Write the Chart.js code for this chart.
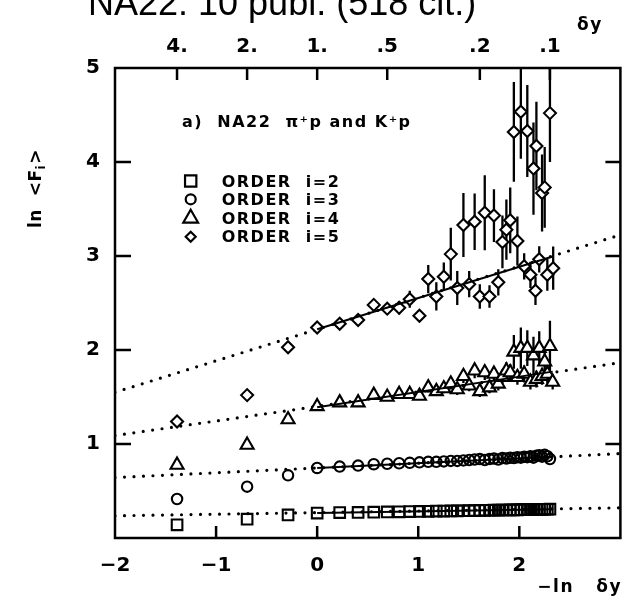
<!DOCTYPE html>
<html>
<head>
<meta charset="utf-8">
<script src="https://cdn.jsdelivr.net/npm/chart.js@4/dist/chart.umd.min.js"></script>
<style>
  html, body { margin: 0; padding: 0; background: #fff; }
  #wrap { width: 630px; height: 597px; }
</style>
</head>
<body>
<div id="wrap"><canvas id="chart" width="630" height="597"></canvas></div>
<script>
// x = -ln(dy) of each bin
const xBins = [-1.386, -0.693, -0.288, 0, 0.223, 0.405, 0.56, 0.693, 0.811, 0.916, 1.012, 1.099, 1.179, 1.253,
  1.322, 1.386, 1.447, 1.504, 1.558, 1.609, 1.658, 1.705, 1.749, 1.792, 1.833, 1.872, 1.91, 1.946, 1.981, 2.015,
  2.048, 2.079, 2.11, 2.14, 2.169, 2.197, 2.225, 2.251, 2.277, 2.303];

// order i=2 (squares)
const ySquares = [0.14, 0.20, 0.245, 0.265, 0.27, 0.272, 0.275, 0.277, 0.279, 0.281, 0.283, 0.284, 0.286, 0.287,
  0.288, 0.289, 0.29, 0.291, 0.292, 0.293, 0.294, 0.295, 0.296, 0.297, 0.298, 0.298, 0.299, 0.3, 0.3, 0.301,
  0.302, 0.302, 0.303, 0.303, 0.304, 0.305, 0.305, 0.306, 0.306, 0.307];

// order i=3 (circles)
const yCircles = [0.415, 0.546, 0.667, 0.745, 0.76, 0.77, 0.785, 0.79, 0.795, 0.80, 0.805, 0.81, 0.81, 0.815,
  0.82, 0.82, 0.825, 0.83, 0.835, 0.84, 0.83, 0.84, 0.845, 0.835, 0.85, 0.845, 0.855, 0.85, 0.86, 0.855,
  0.865, 0.86, 0.87, 0.855, 0.875, 0.88, 0.865, 0.885, 0.87, 0.84];

// order i=4 (triangles)
const xTriangles = [-1.386, -0.693, -0.288, 0, 0.223, 0.405, 0.56, 0.693, 0.811, 0.916, 1.012, 1.099, 1.179, 1.253,
  1.322, 1.386, 1.447, 1.504, 1.558, 1.609, 1.658, 1.705, 1.749, 1.792, 1.833, 1.872, 1.91, 1.946, 1.981, 2.015,
  2.048, 2.079, 2.11, 2.14, 2.169, 2.197, 2.225, 2.251, 2.277, 2.303, 2.33];
const yTriangles = [0.777, 0.99, 1.26, 1.40, 1.44, 1.44, 1.52, 1.50, 1.53, 1.53, 1.51, 1.60, 1.56, 1.59,
  1.64, 1.58, 1.72, 1.62, 1.78, 1.56, 1.76, 1.60, 1.745, 1.64, 1.71, 1.78, 1.76, 1.98, 1.71, 2.02,
  1.745, 2.02, 1.66, 1.94, 1.69, 2.02, 1.72, 1.875, 1.745, 2.04, 1.66];
const eTriangles = [0, 0, 0, 0.02, 0.03, 0.03, 0.03, 0.03, 0.04, 0.04, 0.04, 0.05, 0.05, 0.05,
  0.06, 0.06, 0.07, 0.06, 0.08, 0.06, 0.08, 0.06, 0.08, 0.07, 0.08, 0.09, 0.09, 0.18, 0.08, 0.22,
  0.09, 0.19, 0.08, 0.2, 0.09, 0.18, 0.09, 0.12, 0.1, 0.27, 0.08];

// order i=5 (diamonds)
const xDiamonds = [-1.386, -0.693, -0.288, 0, 0.223, 0.405, 0.56, 0.693, 0.811, 0.916, 1.012, 1.099, 1.179, 1.253,
  1.322, 1.386, 1.447, 1.504, 1.558, 1.609, 1.658, 1.705, 1.749, 1.792, 1.833, 1.872, 1.91, 1.946, 1.981, 2.015,
  2.048, 2.079, 2.11, 2.14, 2.16, 2.169, 2.197, 2.225, 2.251, 2.277, 2.303, 2.335];
const yDiamonds = [1.24, 1.52, 2.03, 2.24, 2.28, 2.32, 2.48, 2.44, 2.45, 2.54, 2.365, 2.755, 2.57, 2.78,
  3.02, 2.66, 3.33, 2.70, 3.365, 2.57, 3.46, 2.57, 3.43, 2.72, 3.15, 3.28, 3.38, 4.32, 3.16, 4.535,
  2.89, 4.33, 2.80, 3.93, 2.63, 4.17, 2.965, 3.67, 3.73, 2.80, 4.52, 2.87];
const eDiamonds = [0, 0, 0, 0.03, 0.04, 0.04, 0.06, 0.06, 0.07, 0.09, 0.05, 0.15, 0.15, 0.15,
  0.28, 0.18, 0.34, 0.14, 0.30, 0.13, 0.40, 0.12, 0.28, 0.14, 0.28, 0.32, 0.35, 0.53, 0.26, 0.50,
  0.14, 0.49, 0.14, 0.49, 0.15, 0.47, 0.14, 0.41, 0.43, 0.17, 0.52, 0.23];

// solid fits and dotted extrapolations (end points)
const fitX = [0, 2.33];
const fit2 = [0.266, 0.306];
const fit3 = [0.745, 0.864];
const fit4 = [1.39, 1.77];
const fit5 = [2.22, 2.995];
const extX = [-2, 3];
const ext2 = [0.236, 0.321];
const ext3 = [0.643, 0.898];
const ext4 = [1.09, 1.865];
const ext5 = [1.55, 3.225];

// top axis: dy values
const topTicks = [4, 2, 1, 0.5, 0.2, 0.1];
const topLabels = ['4.', '2.', '1.', '.5', '.2', '.1'];

const legendItems = [
  { style: 'rect', r: 8, text: 'ORDER  i=2' },
  { style: 'circle', r: 5, text: 'ORDER  i=3' },
  { style: 'triangle', r: 8.5, text: 'ORDER  i=4' },
  { style: 'rectRot', r: 5, text: 'ORDER  i=5' }
];

function pts(xs, ys) {
  return xs.map((x, i) => ({ x: x, y: ys[i] }));
}

const tickFont = { family: 'DejaVu Sans', size: 20, weight: 'bold' };

const frame = {
  id: 'frame',
  beforeDatasetsDraw(chart) {
    // error bars, under the markers
    const { ctx, chartArea: a, scales: { x, y } } = chart;
    ctx.save();
    ctx.beginPath();
    ctx.rect(a.left, a.top, a.right - a.left, a.bottom - a.top);
    ctx.clip();
    ctx.strokeStyle = '#000';
    ctx.lineWidth = 2.3;
    chart.data.datasets.forEach(ds => {
      if (!ds.yErr) return;
      ds.data.forEach((p, i) => {
        const e = ds.yErr[i];
        if (!e) return;
        const px = x.getPixelForValue(p.x);
        ctx.beginPath();
        ctx.moveTo(px, y.getPixelForValue(p.y - e));
        ctx.lineTo(px, y.getPixelForValue(p.y + e));
        ctx.stroke();
      });
    });
    ctx.restore();
  },
  afterDraw(chart) {
    const { ctx, chartArea: a, scales: { x, y } } = chart;
    ctx.save();
    ctx.strokeStyle = '#000';
    ctx.fillStyle = '#000';
    ctx.lineWidth = 2.5;
    ctx.strokeRect(a.left, a.top, a.right - a.left, a.bottom - a.top);

    // inward tick marks
    ctx.beginPath();
    [1, 2, 3, 4].forEach(v => {
      const py = y.getPixelForValue(v);
      ctx.moveTo(a.left, py); ctx.lineTo(a.left + 16, py);
      ctx.moveTo(a.right, py); ctx.lineTo(a.right - 15, py);
    });
    [-1, 0, 1, 2].forEach(v => {
      const px = x.getPixelForValue(v);
      ctx.moveTo(px, a.bottom); ctx.lineTo(px, a.bottom - 12);
    });
    topTicks.forEach(v => {
      const px = x.getPixelForValue(-Math.log(v));
      ctx.moveTo(px, a.top); ctx.lineTo(px, a.top + 12);
    });
    ctx.stroke();

    // title, cut by the top edge
    ctx.font = '36px "Liberation Sans"';
    ctx.textAlign = 'left';
    ctx.textBaseline = 'alphabetic';
    ctx.fillText('NA22: 10 publ. (518 cit.)', 88, 15);

    // axis names
    ctx.font = 'bold 17px "DejaVu Sans"';
    ctx.letterSpacing = '1.5px';
    ctx.fillText('\u03b4y', 577, 30);
    ctx.textAlign = 'right';
    ctx.fillText('\u2212ln   \u03b4y', 622, 592);
    ctx.textAlign = 'left';

    ctx.save();
    ctx.translate(41, 228);
    ctx.rotate(-Math.PI / 2);
    ctx.letterSpacing = '0.5px';
    ctx.fillText('ln  <F', 0, 0);
    let w = ctx.measureText('ln  <F').width;
    ctx.font = 'bold 12px "DejaVu Sans"';
    ctx.fillText('i', w, 4);
    w += ctx.measureText('i').width + 1;
    ctx.font = 'bold 17px "DejaVu Sans"';
    ctx.fillText('>', w, 0);
    ctx.restore();

    // annotation and legend
    ctx.font = 'bold 16px "DejaVu Sans"';
    ctx.letterSpacing = '1.5px';
    ctx.fillText('a)  NA22  \u03c0\u207ap and K\u207ap', 182, 127);
    const rows = [186.7, 205, 224, 242.4];
    legendItems.forEach((it, i) => {
      ctx.fillText(it.text, 221.7, rows[i]);
      ctx.save();
      ctx.fillStyle = '#fff';
      ctx.lineWidth = 2.2;
      Chart.helpers.drawPoint(ctx, { pointStyle: it.style, radius: it.r, rotation: 0, borderWidth: 2.2 }, 190.7, rows[i] - 5.7);
      ctx.restore();
    });
    ctx.restore();
  }
};

function markerSet(label, xs, ys, style, r, fill, errs) {
  return {
    label: label,
    data: pts(xs, ys),
    yErr: errs,
    showLine: false,
    pointStyle: style,
    pointRadius: r,
    pointBorderWidth: 2.1,
    pointBorderColor: '#000',
    pointBackgroundColor: fill,
    order: 1
  };
}

function lineSet(label, xs, ys, dotted) {
  return {
    label: label,
    data: pts(xs, ys),
    showLine: true,
    pointRadius: 0,
    borderColor: '#000',
    borderWidth: dotted ? 3.2 : 2,
    borderDash: dotted ? [0, 9.5] : [],
    borderCapStyle: dotted ? 'round' : 'butt',
    order: dotted ? 3 : 0
  };
}

new Chart(document.getElementById('chart').getContext('2d'), {
  type: 'scatter',
  data: {
    datasets: [
      lineSet('fit i=2', fitX, fit2, false),
      lineSet('fit i=3', fitX, fit3, false),
      lineSet('fit i=4', fitX, fit4, false),
      lineSet('fit i=5', fitX, fit5, false),
      markerSet('ORDER i=2', xBins, ySquares, 'rect', 7.5, 'rgba(0,0,0,0)'),
      markerSet('ORDER i=3', xBins, yCircles, 'circle', 5.2, 'rgba(0,0,0,0)'),
      markerSet('ORDER i=4', xTriangles, yTriangles, 'triangle', 7.5, '#fff', eTriangles),
      markerSet('ORDER i=5', xDiamonds, yDiamonds, 'rectRot', 6, '#fff', eDiamonds),
      lineSet('ext i=2', extX, ext2, true),
      lineSet('ext i=3', extX, ext3, true),
      lineSet('ext i=4', extX, ext4, true),
      lineSet('ext i=5', extX, ext5, true)
    ]
  },
  options: {
    responsive: false,
    animation: false,
    events: [],
    layout: { padding: { left: 0, right: 3, top: 0, bottom: 0 } },
    plugins: { legend: { display: false }, tooltip: { enabled: false }, title: { display: false } },
    scales: {
      x: {
        type: 'linear', position: 'bottom', min: -2, max: 3,
        afterFit: s => { s.height = 59; },
        grid: { display: false, drawTicks: false },
        border: { display: false },
        ticks: {
          stepSize: 1, color: '#000', font: tickFont, padding: 16, maxRotation: 0, autoSkip: false,
          callback: v => (v === 3 ? null : (v < 0 ? '\u2212' + (-v) : String(v)))
        }
      },
      xTop: {
        type: 'linear', position: 'top', min: -2, max: 3,
        afterFit: s => { s.height = 68; },
        afterBuildTicks: s => { s.ticks = topTicks.map(v => ({ value: -Math.log(v) })); },
        grid: { display: false, drawTicks: false },
        border: { display: false },
        ticks: {
          color: '#000', font: tickFont, padding: 9, maxRotation: 0, autoSkip: false,
          callback: (v, i) => topLabels[i]
        }
      },
      y: {
        type: 'linear', position: 'left', min: 0, max: 5,
        afterFit: s => { s.width = 115; },
        grid: { display: false, drawTicks: false },
        border: { display: false },
        ticks: {
          stepSize: 1, color: '#000', font: tickFont, padding: 15,
          callback: v => (v === 0 ? null : String(v))
        }
      }
    }
  },
  plugins: [frame]
});
</script>
</body>
</html>
